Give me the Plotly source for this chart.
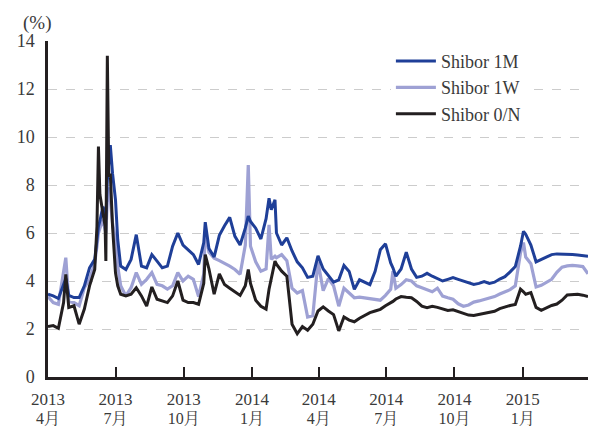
import plotly.graph_objects as go

dates = [
    "2013-04-01", "2013-04-08", "2013-04-15", "2013-04-22", "2013-04-25", "2013-04-29",
    "2013-05-06", "2013-05-13", "2013-05-20", "2013-05-27", "2013-06-03", "2013-06-06",
    "2013-06-08", "2013-06-10", "2013-06-14", "2013-06-17", "2013-06-18", "2013-06-20",
    "2013-06-22", "2013-06-24", "2013-06-27", "2013-07-01", "2013-07-04", "2013-07-08",
    "2013-07-15", "2013-07-22", "2013-07-29", "2013-08-05", "2013-08-12", "2013-08-19",
    "2013-08-26", "2013-09-02", "2013-09-09", "2013-09-16", "2013-09-23", "2013-09-30",
    "2013-10-07", "2013-10-14", "2013-10-21", "2013-10-28", "2013-10-30", "2013-11-04",
    "2013-11-11", "2013-11-18", "2013-11-25", "2013-12-02", "2013-12-09", "2013-12-16",
    "2013-12-23", "2013-12-27", "2013-12-30", "2014-01-06", "2014-01-13", "2014-01-20",
    "2014-01-24", "2014-01-27", "2014-02-01", "2014-02-03", "2014-02-10", "2014-02-17",
    "2014-02-24", "2014-03-03", "2014-03-10", "2014-03-17", "2014-03-24", "2014-03-31",
    "2014-04-07", "2014-04-14", "2014-04-21", "2014-04-28", "2014-05-05", "2014-05-12",
    "2014-05-19", "2014-05-26", "2014-06-02", "2014-06-09", "2014-06-16", "2014-06-23",
    "2014-06-30", "2014-07-07", "2014-07-10", "2014-07-14", "2014-07-21", "2014-07-28",
    "2014-08-04", "2014-08-11", "2014-08-18", "2014-08-25", "2014-09-01", "2014-09-08",
    "2014-09-15", "2014-09-22", "2014-09-29", "2014-10-06", "2014-10-13", "2014-10-20",
    "2014-10-27", "2014-11-03", "2014-11-10", "2014-11-17", "2014-11-24", "2014-12-01",
    "2014-12-08", "2014-12-15", "2014-12-22", "2014-12-29", "2015-01-02", "2015-01-05",
    "2015-01-12", "2015-01-19", "2015-01-26", "2015-02-02", "2015-02-09", "2015-02-16",
    "2015-02-23", "2015-03-02", "2015-03-09", "2015-03-16", "2015-03-23", "2015-03-30",
]

shibor_1m = [
    3.45, 3.38, 3.27, 3.90, 4.10, 3.40,
    3.31, 3.31, 3.80, 4.55, 4.90, 5.72,
    6.28, 6.50, 7.10, 6.80, 6.55, 8.20,
    9.00, 9.66, 8.48, 7.38, 5.72, 4.62,
    4.48, 4.90, 5.93, 4.62, 4.55, 5.10,
    4.83, 4.55, 4.62, 5.45, 6.00, 5.50,
    5.30, 5.10, 4.69, 5.60, 6.45, 5.35,
    5.00, 5.90, 6.30, 6.65, 5.86, 5.50,
    6.20, 6.70, 6.48, 6.20, 5.75, 6.60,
    7.45, 6.97, 7.38, 6.00, 5.50, 5.80,
    5.25, 4.80, 4.55, 4.15, 4.20, 5.05,
    4.50, 4.20, 3.95, 4.05, 4.65, 4.40,
    3.65, 4.05, 3.95, 3.85, 4.40, 5.30,
    5.55, 4.75, 4.55, 4.20, 4.50, 5.20,
    4.50, 4.15, 4.20, 4.32, 4.20, 4.10,
    4.00, 4.07, 4.14, 4.07, 4.00, 3.95,
    3.86, 3.90, 3.98, 3.90, 3.95, 4.08,
    4.18, 4.38, 4.60, 5.45, 6.07, 5.95,
    5.50, 4.80, 4.90, 5.02, 5.10, 5.13,
    5.13, 5.12, 5.10, 5.08, 5.06, 5.03,
]

shibor_1w = [
    3.35, 3.10, 3.03, 4.30, 4.97, 3.15,
    3.10, 2.97, 3.72, 4.07, 4.76, 5.45,
    6.00, 6.20, 6.55, 6.14, 6.00, 7.40,
    7.90, 7.40, 6.40, 5.72, 4.62, 3.80,
    3.38, 3.72, 4.35, 3.86, 4.07, 4.35,
    3.86, 3.80, 3.66, 3.80, 4.35, 4.00,
    4.20, 4.07, 3.35, 4.30, 6.10, 5.20,
    4.95, 4.85, 4.75, 4.62, 4.48, 4.28,
    5.50, 8.83, 5.45, 4.80, 4.41, 4.50,
    6.34, 4.90, 5.03, 4.97, 5.10, 4.85,
    3.70, 3.50, 3.60, 2.50, 2.55, 4.80,
    3.60, 4.10, 3.80, 2.95, 3.70, 3.50,
    3.30, 3.33, 3.30, 3.25, 3.25, 3.20,
    3.40, 3.65, 4.41, 3.70, 3.85, 4.05,
    4.00, 3.80, 3.72, 3.65, 3.55, 3.70,
    3.37, 3.30, 3.24, 3.05, 2.95, 3.00,
    3.12, 3.17, 3.24, 3.28, 3.35, 3.46,
    3.55, 3.64, 3.80, 5.17, 5.60, 5.00,
    4.72, 3.75, 3.82, 3.95, 4.07, 4.36,
    4.58, 4.63, 4.65, 4.63, 4.60, 4.30,
]

shibor_on = [
    2.10, 2.14, 2.03, 3.10, 4.28, 2.90,
    2.97, 2.20, 2.83, 3.80, 4.48, 6.28,
    9.60, 7.60, 6.83, 6.28, 4.83, 13.38,
    8.34, 8.48, 6.28, 4.34, 3.80, 3.45,
    3.38, 3.45, 3.72, 3.38, 2.95, 3.75,
    3.24, 3.17, 3.10, 3.38, 4.00, 3.20,
    3.10, 3.10, 3.03, 3.90, 5.10, 4.50,
    3.45, 4.30, 3.85, 3.70, 3.55, 3.40,
    3.80, 4.48, 3.90, 3.20, 2.95, 2.83,
    3.66, 4.10, 4.83, 4.70, 4.41, 4.20,
    2.20, 1.80, 2.10, 1.95, 2.20, 2.75,
    2.92, 2.75, 2.60, 1.92, 2.50, 2.37,
    2.30, 2.45, 2.58, 2.68, 2.75, 2.82,
    2.97, 3.08, 3.15, 3.25, 3.35, 3.32,
    3.30, 3.15, 2.95, 2.89, 2.95, 2.90,
    2.84, 2.77, 2.80, 2.72, 2.66, 2.58,
    2.56, 2.60, 2.64, 2.68, 2.74, 2.85,
    2.92, 2.98, 3.02, 3.66, 3.55, 3.45,
    3.52, 2.90, 2.78, 2.88, 2.98, 3.04,
    3.20, 3.42, 3.45, 3.45, 3.41, 3.35,
]

tick_dates = ["2013-04-01", "2013-07-01", "2013-10-01", "2014-01-01",
              "2014-04-01", "2014-07-01", "2014-10-01", "2015-01-01"]
tick_years = ["2013", "2013", "2013", "2014", "2014", "2014", "2014", "2015"]
tick_months = ["4月", "7月", "10月", "1月", "4月", "7月", "10月", "1月"]
y_ticks = [0, 2, 4, 6, 8, 10, 12, 14]

FONT = "Liberation Serif, Noto Serif CJK SC, Noto Sans CJK SC, serif"
TXT = "#3a3a3a"
C_1M = "#1f3f98"
C_1W = "#9ea1d4"
C_ON = "#231f20"
X_RANGE = ["2013-04-01", "2015-03-30"]

fig = go.Figure()
fig.add_trace(go.Scatter(x=dates, y=shibor_1w, mode="lines", name="Shibor 1W",
                         line=dict(color=C_1W, width=3.2), legendrank=2))
fig.add_trace(go.Scatter(x=dates, y=shibor_1m, mode="lines", name="Shibor 1M",
                         line=dict(color=C_1M, width=3), legendrank=1))
fig.add_trace(go.Scatter(x=dates, y=shibor_on, mode="lines", name="Shibor 0/N",
                         line=dict(color=C_ON, width=3), legendrank=3))
# invisible helper trace so the second (month-label) x axis is rendered
fig.add_trace(go.Scatter(x=[dates[0]], y=[shibor_on[0]], xaxis="x2", mode="lines",
                         showlegend=False, hoverinfo="skip",
                         line=dict(color="rgba(0,0,0,0)")))

fig.update_layout(
    width=589, height=428,
    margin=dict(l=48, r=1, t=41, b=51, autoexpand=False),
    paper_bgcolor="white", plot_bgcolor="white",
    font=dict(family=FONT, size=18, color=TXT),
    showlegend=True,
    legend=dict(x=0.635, y=0.995, xanchor="left", yanchor="top",
                bgcolor="white", borderwidth=0,
                font=dict(family=FONT, size=18, color=TXT),
                tracegroupgap=0, itemwidth=40),
    annotations=[dict(text="(%)", xref="paper", yref="paper", x=-0.02, y=1.014,
                      xanchor="center", yanchor="bottom", showarrow=False,
                      font=dict(family=FONT, size=19, color=TXT))],
    xaxis=dict(
        type="date", range=X_RANGE, automargin=False,
        tickmode="array", tickvals=tick_dates, ticktext=tick_years,
        ticks="inside", ticklen=10, tickwidth=2, tickcolor=C_ON,
        showline=True, linecolor=C_ON, linewidth=2.5,
        showgrid=False, zeroline=False, ticklabelstandoff=5,
        tickfont=dict(family=FONT, size=17, color=TXT),
    ),
    xaxis2=dict(
        type="date", range=X_RANGE, automargin=False, overlaying="x",
        anchor="y", side="bottom",
        tickmode="array", tickvals=tick_dates, ticktext=tick_months,
        ticks="", showline=False, showgrid=False, zeroline=False,
        ticklabelstandoff=30,
        tickfont=dict(family=FONT, size=16, color=TXT),
    ),
    yaxis=dict(
        range=[0, 14], tickmode="array", tickvals=y_ticks, automargin=False,
        showline=True, linecolor=C_ON, linewidth=2.5, ticks="",
        showgrid=True, gridcolor="#cccccc", griddash="dash", gridwidth=1,
        zeroline=False, ticklabelstandoff=7,
        tickfont=dict(family=FONT, size=18, color=TXT),
    ),
)

fig.write_html(
    "out.html",
    config={"displayModeBar": False},
    post_script="document.body.style.margin='0';document.body.style.overflow='hidden';",
)
